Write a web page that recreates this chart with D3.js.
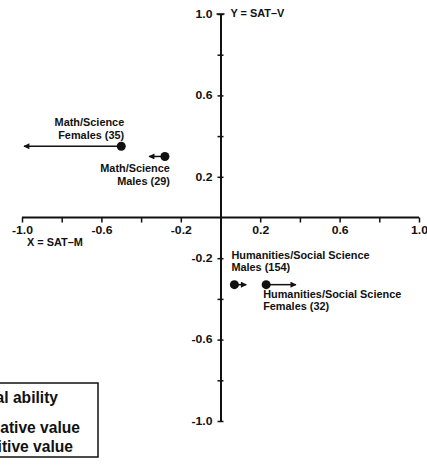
<!DOCTYPE html>
<html>
<head>
<meta charset="utf-8">
<script src="https://cdn.jsdelivr.net/npm/d3@7/dist/d3.min.js"></script>
<style>
  html, body { margin: 0; padding: 0; background: #fff; }
  svg text { font-family: "Liberation Sans", Arial, sans-serif; font-weight: bold; fill: #111; }
</style>
</head>
<body>
<svg id="chart" width="427" height="465"></svg>
<script>
// Groups plotted in SAT-M (x) by SAT-V (y) space; the arrow shows spatial ability
const groupNames = [
  ["Math/Science", "Females (35)"],
  ["Math/Science", "Males (29)"],
  ["Humanities/Social Science", "Males (154)"],
  ["Humanities/Social Science", "Females (32)"]
];
const satM = [-0.50, -0.28, 0.07, 0.23];
const satV = [0.35, 0.30, -0.33, -0.33];
const spatial = [-0.49, -0.08, 0.06, 0.15];

const tickValues = [-1.0, -0.8, -0.6, -0.4, -0.2, 0.2, 0.4, 0.6, 0.8, 1.0];
const tickLabels = ["-1.0", "-0.6", "-0.2", "0.2", "0.6", "1.0"];
const legendLines = ["Spatial ability", "Negative value", "Positive value"];

const svg = d3.select("#chart");
const x = d3.scaleLinear().domain([-1, 1]).range([22, 419]);
const y = d3.scaleLinear().domain([-1, 1]).range([421, 14]);

// widen glyphs horizontally by factor k (wide bold face)
function stretch(sel, k) {
  sel.each(function () {
    const len = this.getComputedTextLength();
    if (len > 0) {
      d3.select(this).attr("textLength", len * k).attr("lengthAdjust", "spacingAndGlyphs");
    }
  });
}

const labelled = v => tickLabels.includes(v.toFixed(1));

// Horizontal axis through the origin
const xAxis = d3.axisBottom(x)
  .tickValues(tickValues)
  .tickSize(5)
  .tickPadding(4)
  .tickFormat(d => labelled(d) ? d.toFixed(1) : "");
const gx = svg.append("g").attr("transform", `translate(0,${y(0)})`).call(xAxis);
gx.select(".domain").attr("stroke", "#111").attr("stroke-width", 2).attr("d", `M${x(-1)},0H${x(1)}`);
gx.selectAll(".tick line").attr("stroke", "#111").attr("stroke-width", 1.5);
gx.selectAll(".tick text").attr("font-size", 10).attr("font-family", "Liberation Sans, Arial, sans-serif")
  .attr("font-weight", "bold").attr("fill", "#111");
stretch(gx.selectAll(".tick text"), 1.22);

// Vertical axis through the origin, ticks crossing the line
const yAxis = d3.axisLeft(y)
  .tickValues(tickValues)
  .tickSizeInner(3)
  .tickSizeOuter(0)
  .tickPadding(5)
  .tickFormat(d => labelled(d) ? d.toFixed(1) : "");
const gy = svg.append("g").attr("transform", `translate(${x(0)},0)`).call(yAxis);
gy.select(".domain").attr("stroke", "#111").attr("stroke-width", 2);
gy.selectAll(".tick line").attr("stroke", "#111").attr("stroke-width", 1.5).attr("x2", -3).attr("x1", 3);
gy.selectAll(".tick text").attr("font-size", 10).attr("font-family", "Liberation Sans, Arial, sans-serif")
  .attr("font-weight", "bold").attr("fill", "#111");
stretch(gy.selectAll(".tick text"), 1.22);
// small cap on the top of the vertical axis
gy.append("line").attr("x1", -4).attr("x2", 4).attr("y1", y(1)).attr("y2", y(1))
  .attr("stroke", "#111").attr("stroke-width", 1.5);

// Axis titles
stretch(svg.append("text").attr("x", x(0) + 10).attr("y", y(1) + 3).attr("font-size", 10).text("Y = SAT\u2013V"), 1.09);
stretch(svg.append("text").attr("x", 27).attr("y", y(0) + 28.5).attr("font-size", 10).text("X = SAT\u2013M"), 1.09);

// Arrowhead marker
svg.append("defs").append("marker")
  .attr("id", "head")
  .attr("viewBox", "0 0 10 10")
  .attr("refX", 9).attr("refY", 5)
  .attr("markerWidth", 8).attr("markerHeight", 6)
  .attr("markerUnits", "userSpaceOnUse")
  .attr("orient", "auto")
  .append("path").attr("d", "M0,0L10,5L0,10Z").attr("fill", "#111");

const idx = d3.range(satM.length);

svg.append("g").selectAll("line").data(idx).join("line")
  .attr("x1", i => x(satM[i]))
  .attr("y1", i => y(satV[i]))
  .attr("x2", i => x(satM[i] + spatial[i]))
  .attr("y2", i => y(satV[i]))
  .attr("stroke", "#111")
  .attr("stroke-width", 1.5)
  .attr("marker-end", "url(#head)");

svg.append("g").selectAll("circle").data(idx).join("circle")
  .attr("cx", i => x(satM[i]))
  .attr("cy", i => y(satV[i]))
  .attr("r", 4.5)
  .attr("fill", "#111");

// Group labels: anchor and offset from each point
const labelPlace = [
  { anchor: "end",   dx: 3,  dy: -20 },
  { anchor: "end",   dx: 5,  dy: 16 },
  { anchor: "start", dx: -3, dy: -26 },
  { anchor: "start", dx: -3, dy: 13 }
];
const labelRows = idx.flatMap(i => groupNames[i].map((t, k) => ({ t, i, k })));
const labels = svg.append("g").selectAll("text").data(labelRows).join("text")
  .attr("font-size", 10)
  .attr("text-anchor", d => labelPlace[d.i].anchor)
  .attr("x", d => x(satM[d.i]) + labelPlace[d.i].dx)
  .attr("y", d => y(satV[d.i]) + labelPlace[d.i].dy + d.k * 12.5)
  .text(d => d.t);
stretch(labels, 1.09);

// Legend box, partly beyond the left edge
const legend = svg.append("g");
legend.append("rect").attr("x", -120).attr("y", 383).attr("width", 218).attr("height", 74)
  .attr("fill", "#fff").attr("stroke", "#111").attr("stroke-width", 1.5);
legend.selectAll("text").data(legendLines).join("text")
  .attr("text-anchor", "end")
  .attr("font-size", 15.6)
  .attr("x", (d, k) => [58, 80, 73][k])
  .attr("y", (d, k) => [403, 433, 452][k])
  .text(d => d);
</script>
</body>
</html>
